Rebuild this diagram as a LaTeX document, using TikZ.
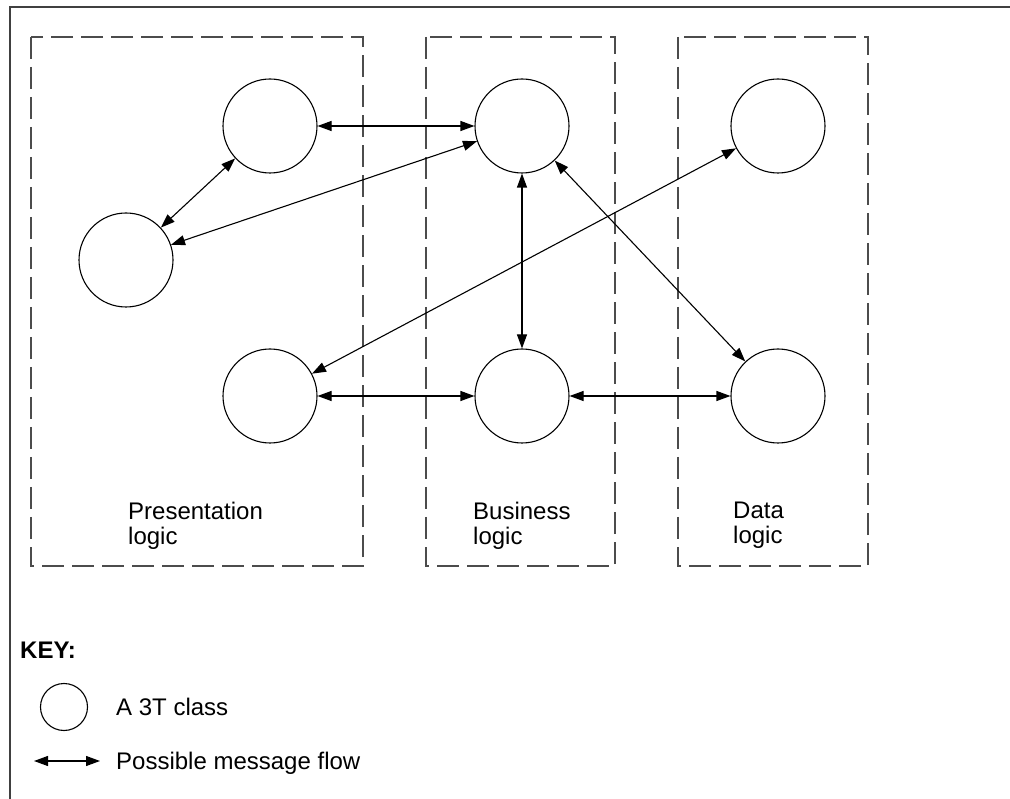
\documentclass[tikz,border=0pt]{standalone}
\usepackage{fontspec}
\setmainfont{Liberation Sans}
\usetikzlibrary{arrows.meta}
\tikzset{
  frameline/.style={line width=1.5pt, draw=black!75},
  tierbox/.style={draw=black!70, line width=1.3pt, dash pattern=on 22pt off 8pt},
  tclass/.style={circle, draw=black, line width=1.1pt, minimum size=94pt, inner sep=0pt},
  keyclass/.style={circle, draw=black, line width=1.1pt, minimum size=47pt, inner sep=0pt},
  msg/.style={line width=1.1pt, {Triangle[length=14pt,width=10pt]}-{Triangle[length=14pt,width=10pt]}},
  lbl/.style={font=\fontsize{24}{25}\selectfont, align=left, inner sep=0pt}
}
\begin{document}
\begin{tikzpicture}[x=1pt,y=-1pt]
\useasboundingbox (0,0) rectangle (1010,799);
% outer frame (left and top edges)
\draw[frameline] (10,810) -- (10,7) -- (1020,7);
% tier boxes
\draw[tierbox] (31,37) rectangle (363,566);
\draw[tierbox] (426,37) rectangle (615,566);
\draw[tierbox] (678,37) rectangle (868,566);
% classes
\node[tclass] (P1) at (270,126) {};
\node[tclass] (P2) at (126,260) {};
\node[tclass] (P3) at (270,396) {};
\node[tclass] (B1) at (522,126) {};
\node[tclass] (B2) at (522,396) {};
\node[tclass] (D1) at (778,126) {};
\node[tclass] (D2) at (778,396) {};
% message flows
\draw[msg] (P1) -- (B1);
\draw[msg] (P1) -- (P2);
\draw[msg] (P2) -- (B1);
\draw[msg] (B1) -- (B2);
\draw[msg] (B1) -- (D2);
\draw[msg] (D1) -- (P3);
\draw[msg] (P3) -- (B2);
\draw[msg] (B2) -- (D2);
% tier labels
\node[lbl, anchor=north west] (tp) at (128,502) {Presentation\\logic};
\node[lbl, anchor=north west] (tb) at (473,502) {Business\\logic};
\node[lbl, anchor=north west] (td) at (733,502) {Data\\logic};
% key
\node[lbl, anchor=base west, font=\fontsize{24}{25}\selectfont\bfseries] (key) at (20,658) {KEY:};
\node[keyclass] (kc) at (64,707) {};
\node[lbl, anchor=base west] (kct) at (116,715) {A 3T class};
\coordinate (ka) at (34,761);
\coordinate (kb) at (100,761);
\draw[msg] (ka) -- (kb);
\node[lbl, anchor=base west] (kat) at (116,769) {Possible message flow};
\end{tikzpicture}
\end{document}
